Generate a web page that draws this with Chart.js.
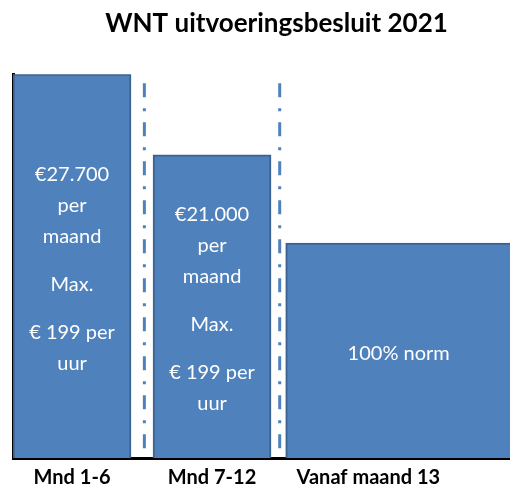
<!DOCTYPE html>
<html lang="nl">
<head>
  <meta charset="UTF-8">
  <script src="https://cdn.jsdelivr.net/npm/chart.js"></script>
  <title>WNT uitvoeringsbesluit 2021</title>
  <style>
    html, body { margin: 0; padding: 0; background: #fff; }
    #wrap { width: 510px; height: 491px; }
  </style>
</head>
<body>
  <div id="wrap"><canvas id="grafico"></canvas></div>
  <script>
    // gegevens
    const categorieen = ["Mnd 1-6", "Mnd 7-12", "Vanaf maand 13"];
    const hoogte = [100, 79, 56];            // relatieve hoogte van de balken
    const balkPositie = [3, 9, 17];          // positie op de maand-as
    const labelPositie = [3, 9, 15.7];       // positie van de categorie-labels
    const scheidingen = [6.1, 11.9];         // streep-punt lijnen tussen de periodes
    const balkTeksten = [
      [["€27.700", "per", "maand"], ["Max."], ["€ 199 per", "uur"]],
      [["€21.000", "per", "maand"], ["Max."], ["€ 199 per", "uur"]],
      [["100% norm"]]
    ];
    const balkBreedte = [118, 118, 226];

    const blauw = '#4F81BD';
    const rand = '#3A6391';
    const lettertype = 'Lato, "Open Sans", sans-serif';

    const datasets = hoogte.map((h, i) => ({
      label: categorieen[i],
      data: [{ x: balkPositie[i], y: h }],
      backgroundColor: blauw,
      borderColor: rand,
      borderWidth: 2,
      borderSkipped: 'bottom',
      barThickness: balkBreedte[i],
      grouped: false
    }));

    // titel iets rechts van het midden, zoals in het origineel
    const titelVerschuiving = {
      id: 'titelVerschuiving',
      afterLayout(chart) {
        const t = chart.titleBlock;
        if (t) { t.left += 15; t.right += 15; }
      }
    };

    const scheidingslijnen = {
      id: 'scheidingslijnen',
      beforeDatasetsDraw(chart) {
        const { ctx, chartArea, scales } = chart;
        ctx.save();
        ctx.strokeStyle = blauw;
        ctx.lineWidth = 3;
        ctx.setLineDash([14, 11, 3, 11]);
        scheidingen.forEach(v => {
          const x = scales.x.getPixelForValue(v);
          ctx.beginPath();
          ctx.moveTo(x, chartArea.top + 9);
          ctx.lineTo(x, chartArea.bottom);
          ctx.stroke();
        });
        ctx.restore();
      }
    };

    const balkTekst = {
      id: 'balkTekst',
      afterDatasetsDraw(chart) {
        const ctx = chart.ctx;
        const regel = 31, alinea = 17;
        ctx.save();
        ctx.fillStyle = '#ffffff';
        ctx.font = '20px ' + lettertype;
        ctx.textAlign = 'center';
        ctx.textBaseline = 'middle';
        balkTeksten.forEach((alineas, i) => {
          const el = chart.getDatasetMeta(i).data[0];
          if (!el) return;
          const n = alineas.reduce((s, a) => s + a.length, 0);
          const totaal = n * regel + (alineas.length - 1) * alinea;
          let y = (el.y + el.base) / 2 - totaal / 2 + regel / 2 + 3;
          const x = el.x;
          alineas.forEach(a => {
            a.forEach(t => { ctx.fillText(t, x, y); y += regel; });
            y += alinea;
          });
        });
        ctx.restore();
      }
    };

    new Chart(document.getElementById('grafico'), {
      type: 'bar',
      data: { datasets },
      plugins: [titelVerschuiving, scheidingslijnen, balkTekst],
      options: {
        responsive: true,
        maintainAspectRatio: false,
        animation: false,
        layout: { padding: { left: 13, right: 0, top: 0, bottom: -7 } },
        plugins: {
          legend: { display: false },
          tooltip: { enabled: false },
          title: {
            display: true,
            text: 'WNT uitvoeringsbesluit 2021',
            color: '#000',
            font: { family: lettertype, size: 26, weight: 'bold' },
            padding: { top: 8, bottom: 35 }
          }
        },
        scales: {
          x: {
            type: 'linear',
            min: 0.47,
            max: 21.77,
            offset: false,
            grid: { display: false, drawTicks: false },
            border: { display: true, color: '#000', width: 3 },
            afterBuildTicks: (scale) => {
              scale.ticks = labelPositie.map(v => ({ value: v }));
            },
            ticks: {
              autoSkip: false,
              maxRotation: 0,
              padding: 10,
              color: '#000',
              font: { family: lettertype, size: 20, weight: 'bold', lineHeight: 1 },
              callback: (v, i) => categorieen[i]
            }
          },
          y: {
            min: 0,
            max: 100,
            grid: { display: false, drawTicks: false },
            border: { display: true, color: '#000', width: 3 },
            ticks: { display: false }
          }
        }
      }
    });
  </script>
</body>
</html>
